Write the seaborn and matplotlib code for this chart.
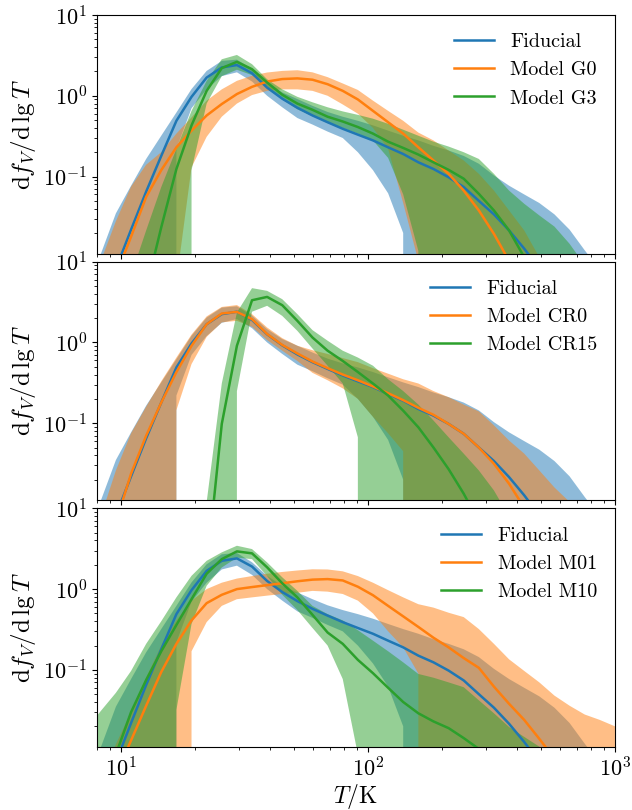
import numpy as np
import pandas as pd
import matplotlib
matplotlib.use("Agg")
import matplotlib.pyplot as plt
import seaborn as sns

# Temperature bin centres (K), log-spaced
T = [7.20, 8.29, 9.54, 10.99, 12.65, 14.56, 16.77, 19.31, 22.23, 25.60,
     29.48, 33.94, 39.07, 44.99, 51.80, 59.64, 68.66, 79.07, 91.03, 104.8,
     120.7, 138.9, 160.0, 184.2, 212.1, 244.2, 281.2, 323.7, 372.8, 429.3,
     494.2, 569.0, 655.1, 754.6, 868.7, 1000.0]

# Fiducial run: median and spread of df_V/dlgT
fid_med = [0.002, 0.0035, 0.0072, 0.022, 0.065, 0.18, 0.49, 0.97, 1.68, 2.24,
           2.4, 1.9, 1.26, 0.92, 0.71, 0.57, 0.47, 0.39, 0.33, 0.28,
           0.23, 0.19, 0.15, 0.124, 0.098, 0.074, 0.050, 0.034, 0.0215, 0.0128,
           0.0072, 0.004, 0.002, 0.001, 0.0005, 0.0003]
fid_hi = [0.004, 0.011, 0.035, 0.077, 0.165, 0.32, 0.62, 1.21, 2.03, 2.7,
          2.8, 2.15, 1.46, 1.1, 0.91, 0.75, 0.63, 0.55, 0.49, 0.43,
          0.37, 0.32, 0.28, 0.24, 0.21, 0.18, 0.144, 0.103, 0.077, 0.06,
          0.047, 0.034, 0.022, 0.0122, 0.007, 0.004]
fid_lo = [0, 0, 0, 0, 0, 0, 0.22, 0.7, 1.2, 1.75,
          1.95, 1.5, 1.0, 0.72, 0.53, 0.44, 0.36, 0.3, 0.2, 0.12,
          0.062, 0.02, 0, 0, 0, 0, 0, 0, 0, 0,
          0, 0, 0, 0, 0, 0]

# Model G0
g0_med = [0.001, 0.002, 0.006, 0.018, 0.056, 0.12, 0.23, 0.37, 0.57, 0.79,
          1.05, 1.29, 1.50, 1.61, 1.64, 1.58, 1.39, 1.15, 0.9, 0.65,
          0.47, 0.34, 0.23, 0.158, 0.108, 0.067, 0.038, 0.0195, 0.009, 0.004,
          0.002, 0.001, 0.0005, 0.0003, 0.0002, 0.0001]
g0_hi = [0.003, 0.009, 0.028, 0.075, 0.14, 0.2, 0.34, 0.54, 0.87, 1.2,
         1.53, 1.77, 1.94, 2.03, 2.07, 1.95, 1.7, 1.42, 1.18, 0.87,
         0.65, 0.49, 0.35, 0.28, 0.21, 0.158, 0.108, 0.067, 0.038, 0.0215,
         0.01, 0.005, 0.002, 0.001, 0.0005, 0.0002]
g0_lo = [0, 0, 0, 0, 0, 0, 0.005, 0.13, 0.31, 0.55,
         0.8, 1.02, 1.15, 1.2, 1.2, 1.15, 1.0, 0.78, 0.6, 0.4,
         0.22, 0.047, 0.009, 0, 0, 0, 0, 0, 0, 0,
         0, 0, 0, 0, 0, 0]

# Model G3
g3_med = [0.0005, 0.001, 0.002, 0.003, 0.004, 0.0235, 0.124, 0.43, 1.15, 2.2,
          2.63, 2.13, 1.46, 1.03, 0.80, 0.67, 0.55, 0.48, 0.41, 0.34,
          0.27, 0.226, 0.187, 0.15, 0.121, 0.094, 0.061, 0.038, 0.0215, 0.010,
          0.005, 0.0025, 0.0012, 0.0006, 0.0003, 0.0002]
g3_hi = [0.0008, 0.0015, 0.003, 0.006, 0.0215, 0.074, 0.22, 0.65, 1.53, 2.83,
         3.2, 2.46, 1.6, 1.2, 0.97, 0.83, 0.72, 0.64, 0.58, 0.52,
         0.45, 0.38, 0.32, 0.27, 0.235, 0.2, 0.165, 0.108, 0.067, 0.046,
         0.033, 0.024, 0.0147, 0.008, 0.004, 0.002]
g3_lo = [0, 0, 0, 0, 0, 0, 0, 0.12, 0.8, 1.75,
         2.1, 1.8, 1.3, 0.9, 0.68, 0.56, 0.46, 0.4, 0.34, 0.28,
         0.17, 0.06, 0.012, 0, 0, 0, 0, 0, 0, 0,
         0, 0, 0, 0, 0, 0]

# Model CR0
cr0_med = [0.001, 0.002, 0.006, 0.0237, 0.07, 0.18, 0.43, 0.91, 1.68, 2.28,
           2.39, 1.94, 1.27, 0.93, 0.73, 0.58, 0.48, 0.4, 0.34, 0.285,
           0.235, 0.193, 0.155, 0.127, 0.098, 0.074, 0.050, 0.0315, 0.0178, 0.009,
           0.004, 0.002, 0.001, 0.0005, 0.0003, 0.0002]
cr0_hi = [0.002, 0.007, 0.026, 0.075, 0.16, 0.33, 0.65, 1.25, 2.1, 2.75,
          2.9, 2.24, 1.53, 1.13, 0.91, 0.8, 0.72, 0.64, 0.57, 0.48,
          0.41, 0.35, 0.31, 0.25, 0.21, 0.17, 0.14, 0.094, 0.061, 0.042,
          0.026, 0.016, 0.0106, 0.005, 0.002, 0.001]
cr0_lo = [0, 0, 0, 0, 0, 0, 0.145, 0.54, 1.17, 1.77,
          1.85, 1.56, 1.07, 0.79, 0.59, 0.42, 0.34, 0.27, 0.2, 0.12,
          0.075, 0.045, 0, 0, 0, 0, 0, 0, 0, 0,
          0, 0, 0, 0, 0, 0]

# Model CR15
cr15_med = [0.0001, 0.0001, 0.0001, 0.0001, 0.0001, 0.0002, 0.0004, 0.001, 0.0015, 0.098,
            0.91, 3.33, 3.66, 2.89, 1.85, 1.15, 0.79, 0.59, 0.43, 0.31,
            0.22, 0.143, 0.089, 0.05, 0.027, 0.0134, 0.006, 0.003, 0.0015, 0.0008,
            0.0004, 0.0002, 0.0001, 0.0001, 0.0001, 0.0001]
cr15_hi = [0.0001, 0.0001, 0.0002, 0.0003, 0.0005, 0.0007, 0.001, 0.003, 0.0105, 0.31,
           2.35, 4.7, 4.35, 3.43, 2.24, 1.42, 1.05, 0.79, 0.65, 0.515,
           0.35, 0.25, 0.17, 0.108, 0.067, 0.042, 0.026, 0.0147, 0.007, 0.003,
           0.001, 0.001, 0.001, 0.001, 0.001, 0.001]
cr15_lo = [0, 0, 0, 0, 0, 0, 0, 0, 0, 0,
           0.25, 2.4, 2.84, 2.13, 1.39, 0.84, 0.515, 0.31, 0.067, 0,
           0, 0, 0, 0, 0, 0, 0, 0, 0, 0,
           0, 0, 0, 0, 0, 0]

# Model M01
m01_med = [0.0005, 0.001, 0.005, 0.0134, 0.036, 0.094, 0.21, 0.41, 0.67, 0.85,
           1.0, 1.06, 1.12, 1.18, 1.25, 1.31, 1.33, 1.28, 1.07, 0.84,
           0.62, 0.46, 0.34, 0.25, 0.19, 0.14, 0.106, 0.062, 0.038, 0.024,
           0.014, 0.008, 0.004, 0.002, 0.001, 0.0005]
m01_hi = [0.0015, 0.004, 0.012, 0.03, 0.08, 0.2, 0.41, 0.72, 1.0, 1.2,
          1.35, 1.45, 1.55, 1.63, 1.7, 1.76, 1.75, 1.66, 1.45, 1.2,
          0.97, 0.79, 0.65, 0.59, 0.51, 0.45, 0.32, 0.21, 0.135, 0.097,
          0.07, 0.048, 0.036, 0.028, 0.024, 0.02]
m01_lo = [0, 0, 0, 0, 0, 0, 0, 0.17, 0.39, 0.62,
          0.75, 0.79, 0.83, 0.87, 0.9, 0.95, 0.93, 0.87, 0.72, 0.5,
          0.3, 0.19, 0.09, 0, 0, 0, 0, 0, 0, 0,
          0, 0, 0, 0, 0, 0]

# Model M10
m10_med = [0.002, 0.004, 0.009, 0.03, 0.075, 0.17, 0.36, 0.75, 1.55, 2.35,
           2.93, 2.77, 1.86, 1.18, 0.79, 0.48, 0.29, 0.21, 0.133, 0.091,
           0.06, 0.04, 0.029, 0.023, 0.019, 0.0143, 0.0105, 0.007, 0.004, 0.002,
           0.001, 0.0005, 0.0003, 0.0002, 0.0001, 0.0001]
m10_hi = [0.018, 0.031, 0.052, 0.097, 0.21, 0.4, 0.79, 1.46, 2.24, 2.85,
          3.44, 3.13, 2.14, 1.4, 0.95, 0.62, 0.49, 0.41, 0.31, 0.23,
          0.17, 0.124, 0.089, 0.08, 0.07, 0.061, 0.042, 0.029, 0.0196, 0.0148,
          0.0112, 0.008, 0.005, 0.003, 0.002, 0.001]
m10_lo = [0, 0, 0, 0, 0, 0, 0.032, 0.37, 1.1, 1.85,
          2.45, 2.35, 1.45, 0.85, 0.55, 0.33, 0.2, 0.077, 0.009, 0,
          0, 0, 0, 0, 0, 0, 0, 0, 0, 0,
          0, 0, 0, 0, 0, 0]

panels = [
    [("Fiducial", fid_med, fid_lo, fid_hi),
     ("Model G0", g0_med, g0_lo, g0_hi),
     ("Model G3", g3_med, g3_lo, g3_hi)],
    [("Fiducial", fid_med, fid_lo, fid_hi),
     ("Model CR0", cr0_med, cr0_lo, cr0_hi),
     ("Model CR15", cr15_med, cr15_lo, cr15_hi)],
    [("Fiducial", fid_med, fid_lo, fid_hi),
     ("Model M01", m01_med, m01_lo, m01_hi),
     ("Model M10", m10_med, m10_lo, m10_hi)],
]

plt.rcParams.update({
    "font.family": ["cmr10"],
    "mathtext.fontset": "cm",
    "axes.formatter.use_mathtext": True,
    "axes.unicode_minus": True,
})

palette = sns.color_palette("tab10", 3)

fig = plt.figure(figsize=(6.32, 8.10), dpi=100)
gs = fig.add_gridspec(3, 1, left=0.1535, right=0.973, top=0.9815,
                      bottom=0.0778, hspace=0.0336)
axes = [fig.add_subplot(gs[i]) for i in range(3)]

for ax, models in zip(axes, panels):
    ax.set_xscale("log")
    ax.set_yscale("log")
    # shaded spread first, median curves on top
    for (label, med, lo, hi), color in zip(models, palette):
        ax.fill_between(T, lo, hi, color=color, alpha=0.5, lw=0, zorder=1)
    for (label, med, lo, hi), color in zip(models, palette):
        df = pd.DataFrame({"T": T, "v": med})
        sns.lineplot(data=df, x="T", y="v", color=color, lw=1.8,
                     label=label, ax=ax, zorder=3)
    ax.set_xlim(8, 1000)
    ax.set_ylim(0.0111, 10)
    ax.set_ylabel(r"$\mathrm{d}f_V/\mathrm{d}\,\lg T$", fontsize=18)
    ax.set_xlabel("")
    ax.tick_params(axis="both", which="major", labelsize=16)
    ax.legend(loc="upper right", frameon=False, fontsize=14.5)

for ax in axes[:2]:
    ax.tick_params(axis="x", which="both", labelbottom=False)
axes[2].set_xlabel(r"$T/\mathrm{K}$", fontsize=17, labelpad=0.5)

fig.savefig("out.png", dpi=100)
